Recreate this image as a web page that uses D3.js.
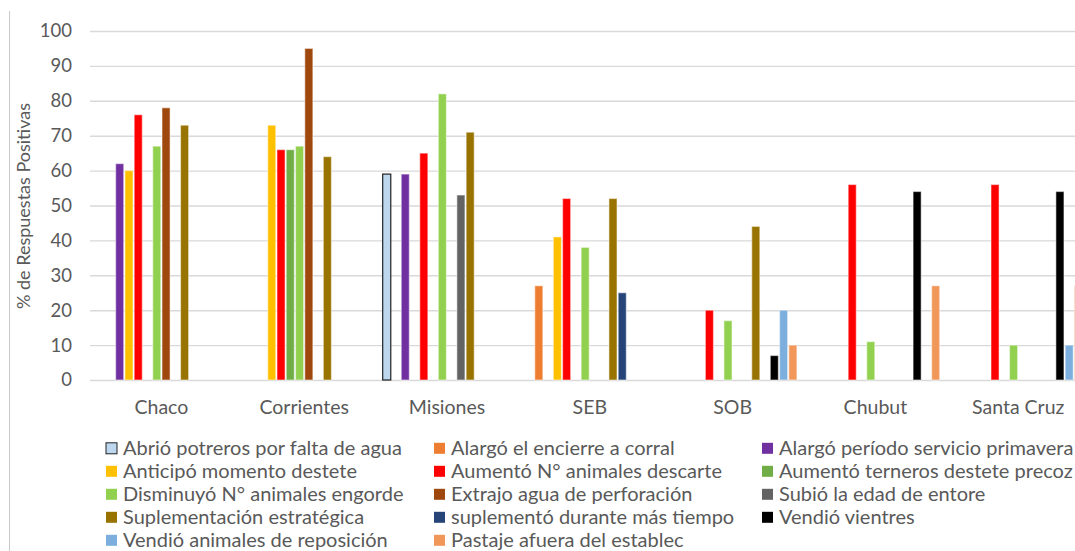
<!DOCTYPE html>
<html>
<head>
<meta charset="utf-8">
<script src="https://cdn.jsdelivr.net/npm/d3@7"></script>
<style>
  html, body { margin: 0; padding: 0; background: #fff; }
  svg { display: block; font-family: Lato, "Open Sans", sans-serif; }
</style>
</head>
<body>
<svg id="chart" width="1075" height="551"></svg>
<script>
// Regions surveyed
const categories = ["Chaco", "Corrientes", "Misiones", "SEB", "SOB", "Chubut", "Santa Cruz"];

// Management responses (one series each)
const seriesNames = [
  "Abrió potreros por falta de agua",
  "Alargó el encierre a corral",
  "Alargó período servicio primavera",
  "Anticipó momento destete",
  "Aumentó N° animales descarte",
  "Aumentó terneros destete precoz",
  "Disminuyó N° animales engorde",
  "Extrajo agua de perforación",
  "Subió la edad de entore",
  "Suplementación estratégica",
  "suplementó durante más tiempo",
  "Vendió vientres",
  "Vendió animales de reposición",
  "Pastaje afuera del establec"
];

// % of positive answers per series, in category order (null = no answer)
const values = [
  [null, null, 59, null, null, null, null],
  [null, null, null, 27, null, null, null],
  [62, null, 59, null, null, null, null],
  [60, 73, null, 41, null, null, null],
  [76, 66, 65, 52, 20, 56, 56],
  [null, 66, null, null, null, null, null],
  [67, 67, 82, 38, 17, 11, 10],
  [78, 95, null, null, null, null, null],
  [null, null, 53, null, null, null, null],
  [73, 64, 71, 52, 44, null, null],
  [null, null, null, 25, null, null, null],
  [null, null, null, null, 7, 54, 54],
  [null, null, null, null, 20, null, 10],
  [null, null, null, null, 10, 27, 27]
];

const yTicks = [0, 10, 20, 30, 40, 50, 60, 70, 80, 90, 100];

const colors = [
  "#BDD7EE", "#ED7D31", "#7030A0", "#FFC000", "#FF0000", "#70AD47", "#92D050",
  "#9E480E", "#636363", "#997300", "#264478", "#000000", "#7CAFDD", "#F1975A"
];

const svg = d3.select("#chart");
const textColor = "#595959";

// plot geometry
const plotLeft = 90, bandW = 142.8, plotTop = 31, plotBottom = 380;
const plotRight = plotLeft + bandW * categories.length;

const x0 = d3.scaleBand().domain(categories).range([plotLeft, plotRight]);
const x1 = d3.scaleBand().domain(d3.range(seriesNames.length)).range([6.5, bandW - 6.5]);
const y = d3.scaleLinear().domain([0, 100]).range([plotBottom, plotTop]);

// outer frame line on the left
svg.append("line").attr("x1", 9.5).attr("x2", 9.5).attr("y1", 11).attr("y2", 551)
  .attr("stroke", "#C9C9C9").attr("stroke-width", 1);

// gridlines and tick labels
const yAxis = svg.append("g").attr("transform", `translate(${plotLeft},0)`)
  .call(d3.axisLeft(y).tickValues(yTicks).tickSize(-(plotRight - plotLeft)).tickPadding(18));
yAxis.select(".domain").remove();
yAxis.selectAll(".tick line").attr("stroke", "#D9D9D9").attr("stroke-width", 1.4);
yAxis.selectAll(".tick text").attr("fill", textColor).attr("font-size", 18.5)
  .attr("font-family", "Lato, sans-serif");

// y axis title
svg.append("text")
  .attr("transform", "translate(29.5,206) rotate(-90)")
  .attr("text-anchor", "middle")
  .attr("fill", textColor).attr("font-size", 18)
  .text("% de Respuestas Positivas");

// bars
const bars = [];
categories.forEach((c, ci) => {
  seriesNames.forEach((s, si) => {
    const v = values[si][ci];
    if (v != null) bars.push({ c, si, v });
  });
});

svg.append("g").selectAll("rect").data(bars).join("rect")
  .attr("x", d => x0(d.c) + x1(d.si) + 0.6)
  .attr("width", x1.bandwidth() - 1.2)
  .attr("y", d => y(d.v))
  .attr("height", d => y(0) - y(d.v))
  .attr("fill", d => colors[d.si])
  .attr("stroke", d => d.si === 0 ? "#222" : "#fff")
  .attr("stroke-opacity", d => d.si === 0 ? 1 : 0.45)
  .attr("stroke-width", 1.2);

// category labels
svg.append("g").selectAll("text").data(categories).join("text")
  .attr("x", d => x0(d) + bandW / 2)
  .attr("y", 414)
  .attr("text-anchor", "middle")
  .attr("fill", textColor).attr("font-size", 19.5)
  .text(d => d);

// legend
const legCols = [106, 434, 762];
const legRow0 = 448.3, legRowH = 23.0;
const leg = svg.append("g").selectAll("g").data(seriesNames).join("g")
  .attr("transform", (d, i) => `translate(${legCols[i % 3]},${legRow0 + Math.floor(i / 3) * legRowH})`);
leg.append("rect")
  .attr("x", 0).attr("y", -5.5).attr("width", 11).attr("height", 11)
  .attr("fill", (d, i) => colors[i])
  .attr("stroke", (d, i) => i === 0 ? "#222" : "none")
  .attr("stroke-width", 1);
leg.append("text")
  .attr("x", 17).attr("y", 6.7)
  .attr("fill", textColor).attr("font-size", 20)
  .text(d => d);
</script>
</body>
</html>
